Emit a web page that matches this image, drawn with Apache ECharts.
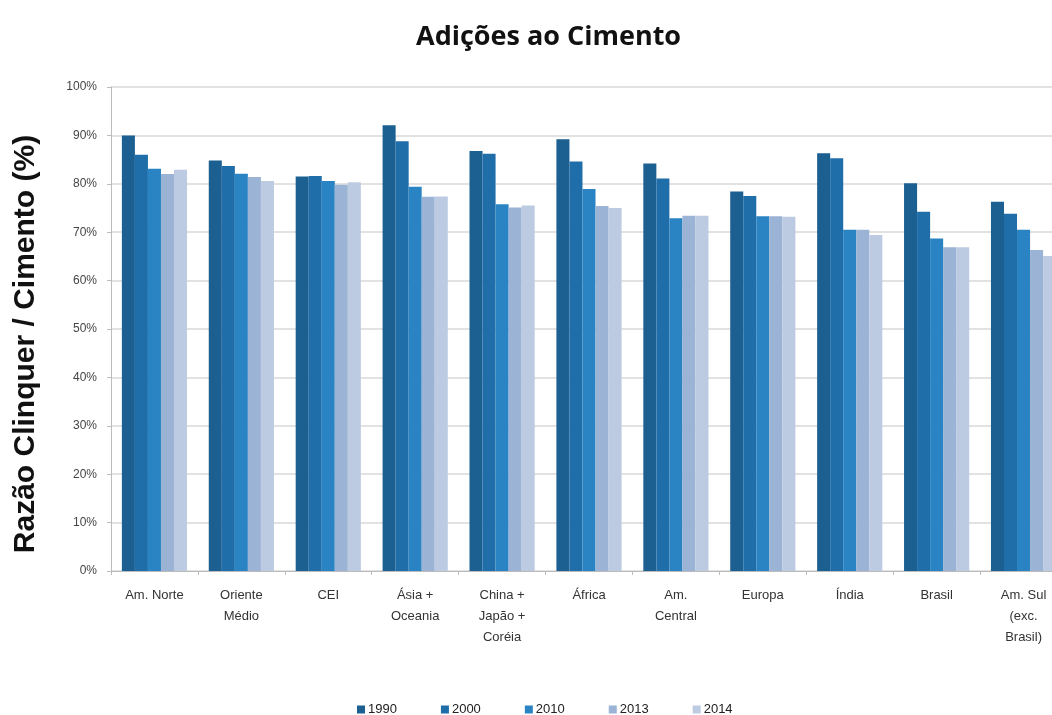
<!DOCTYPE html>
<html>
<head>
<meta charset="utf-8">
<script src="https://cdn.jsdelivr.net/npm/echarts@6/dist/echarts.min.js"></script>
<style>
  html, body { margin: 0; padding: 0; background: #fff; }
  #chart { width: 1052px; height: 715px; }
</style>
</head>
<body>
<div id="chart"></div>
<script>
// Regions (x-axis categories)
const regions = [
  'Am. Norte', 'Oriente\nMédio', 'CEI', 'Ásia +\nOceania', 'China +\nJapão +\nCoréia',
  'África', 'Am.\nCentral', 'Europa', 'Índia', 'Brasil', 'Am. Sul\n(exc.\nBrasil)'
];

// Clinker / cement ratio (%) per year
const y1990 = [90.0, 84.8, 81.5, 92.1, 86.8, 89.2, 84.2, 78.4, 86.3, 80.1, 76.3];
const y2000 = [86.0, 83.7, 81.6, 88.8, 86.2, 84.6, 81.1, 77.5, 85.3, 74.2, 73.8];
const y2010 = [83.1, 82.1, 80.6, 79.4, 75.8, 78.9, 72.9, 73.3, 70.5, 68.7, 70.5];
const y2013 = [82.0, 81.4, 79.8, 77.3, 75.1, 75.4, 73.4, 73.3, 70.5, 66.9, 66.3];
const y2014 = [82.9, 80.6, 80.3, 77.4, 75.5, 75.0, 73.4, 73.2, 69.4, 66.9, 65.1];

const years = ['1990', '2000', '2010', '2013', '2014'];
const yearValues = [y1990, y2000, y2010, y2013, y2014];
const colors = ['#1c5f91', '#1f6eaa', '#2a84c3', '#9bb3d4', '#bccbe2'];

const chart = echarts.init(document.getElementById('chart'));

chart.setOption({
  animation: false,
  color: colors,
  title: {
    text: 'Adições ao Cimento',
    left: 411,
    top: 19,
    textStyle: {
      fontFamily: 'Open Sans',
      fontWeight: 'bold',
      fontSize: 27,
      color: '#111'
    }
  },
  // vertical axis title
  graphic: [{
    type: 'text',
    x: 26,
    y: 344,
    rotation: Math.PI / 2,
    style: {
      text: 'Razão Clinquer / Cimento (%)',
      fontFamily: 'Arial',
      fontWeight: 'bold',
      fontSize: 30,
      fill: '#111',
      align: 'center',
      verticalAlign: 'middle'
    }
  }],
  legend: {
    top: 698,
    left: 352,
    itemWidth: 8,
    itemHeight: 8,
    itemGap: 44,
    icon: 'rect',
    textStyle: { fontFamily: 'Arial', fontSize: 13, color: '#222', padding: [0, 0, 0, -2] },
    data: years
  },
  // plot area runs past the right edge of the canvas
  grid: {
    left: 111,
    top: 87,
    bottom: 144,
    width: 956,
    outerBoundsMode: 'none',
    containLabel: false
  },
  xAxis: {
    type: 'category',
    data: regions,
    axisLine: { show: true, lineStyle: { color: '#bbb' } },
    axisTick: { show: true, alignWithLabel: false, length: 4, lineStyle: { color: '#bbb' } },
    axisLabel: {
      interval: 0,
      margin: 14,
      fontFamily: 'Arial',
      fontSize: 13,
      lineHeight: 21,
      color: '#333'
    }
  },
  yAxis: {
    type: 'value',
    min: 0,
    max: 100,
    interval: 10,
    axisLine: { show: true, lineStyle: { color: '#bbb' } },
    axisTick: { show: true, length: 4, lineStyle: { color: '#bbb' } },
    axisLabel: {
      formatter: '{value}%',
      fontFamily: 'Arial',
      fontSize: 12,
      color: '#444',
      margin: 14
    },
    splitLine: { lineStyle: { color: '#d9d9d9', width: 1.5 } }
  },
  series: years.map((yr, i) => ({
    name: yr,
    type: 'bar',
    data: yearValues[i],
    barGap: '0%',
    barCategoryGap: '25%',
    itemStyle: { color: colors[i] }
  }))
});
</script>
</body>
</html>
